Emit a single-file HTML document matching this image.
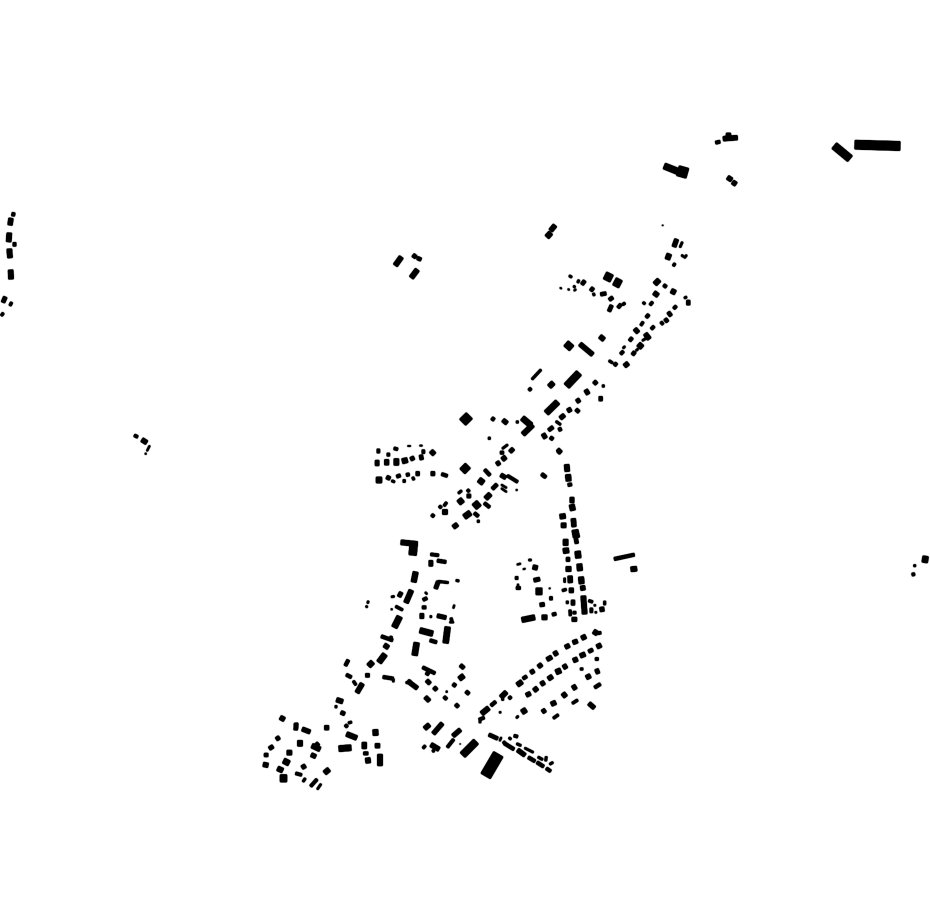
<!DOCTYPE html>
<html><head><meta charset="utf-8"><title>Figure-ground map</title>
<style>html,body{margin:0;padding:0;background:#fff}svg{display:block}path{fill:none;stroke:#000}</style></head>
<body><svg width="930" height="924" viewBox="0 0 930 924" xmlns="http://www.w3.org/2000/svg">
<defs><filter id="f" filterUnits="userSpaceOnUse" x="0" y="0" width="930" height="924"><feGaussianBlur stdDeviation="0.65"/><feComponentTransfer><feFuncA type="linear" slope="5" intercept="0"/></feComponentTransfer></filter></defs>
<g filter="url(#f)">
<g transform="translate(520 120) scale(.3333)">
<path stroke-width="26" d="M1005 74L1140 78"/><path stroke-width="22" d="M943 77L990 116"/><path stroke-width="18" d="M433 138L473 154"/><path stroke-width="30" d="M474 152L502 160"/><path stroke-width="13" d="M610 56L652 53"/><path stroke-width="9" d="M619 44L632 44"/><path stroke-width="9" d="M587 68L600 65"/><path stroke-width="13" d="M623 172L635 180M638 186L648 193M105 316L92 332"/><path stroke-width="17" d="M81 340L92 350"/><path stroke-width="2" d="M426 316L430 316"/>
</g>
<g transform="translate(560 230) scale(.3333)">
<path stroke-width="12" d="M350 28L342 50"/><path stroke-width="5" d="M367 36L360 52M365 75L370 80M373 84L380 75"/><path stroke-width="14" d="M328 72L322 88"/><path stroke-width="7" d="M345 100L340 108"/><path stroke-width="9" d="M33 137L30 142"/><path stroke-width="3" d="M0 173L5 176"/><path stroke-width="4" d="M24 177L28 180M42 182L48 178"/><path stroke-width="6" d="M57 150L53 158M45 168L41 172M100 190L103 197"/><path stroke-width="14" d="M66 155L74 161M175 225L182 231"/><path stroke-width="12" d="M92 175L100 181"/><path stroke-width="10" d="M122 193L138 190M155 226L147 244"/><path stroke-width="13" d="M150 202L156 210"/><path stroke-width="7" d="M188 224L195 219"/><path stroke-width="22" d="M150 131L140 151"/><path stroke-width="20" d="M178 148L167 169"/>
<path stroke-width="18" d="M286 151L296 161"/><path stroke-width="9" d="M311 165L319 171"/><path stroke-width="14" d="M334 182L346 188"/><path stroke-width="8" d="M375 200L378 205M250 222L254 217"/><path stroke-width="14" d="M380 218L390 218"/><path stroke-width="13" d="M282 188L294 197"/><path stroke-width="11" d="M342 229L348 235"/><path stroke-width="12" d="M271 218L277 223M259 255L266 261M315 274L323 268M275 290L281 296M209 325L216 331M217 367L225 373M183 365L189 371"/><path stroke-width="14" d="M325 255L333 249"/><path stroke-width="10" d="M303 282L309 277"/><path stroke-width="13" d="M243 279L249 283M120 319L132 329M60 342L98 374"/><path stroke-width="15" d="M225 306L234 298M236 353L246 342"/><path stroke-width="20" d="M257 323L267 315"/><path stroke-width="5" d="M247 332L258 325M228 362L234 357M189 355L195 349"/><path stroke-width="22" d="M33 340L20 355"/><path stroke-width="6" d="M147 392L158 399"/><path stroke-width="10" d="M163 400L170 406"/><path stroke-width="14" d="M195 399L203 409"/>
</g>
<g transform="translate(360 360) scale(.3333)">
<path stroke-width="6" d="M543 29L516 58"/><path stroke-width="17" d="M569 69L579 79"/><path stroke-width="20" d="M657 39L620 78"/><path stroke-width="9" d="M507 85L513 91M396 181L402 173"/><path stroke-width="11" d="M702 64L710 72"/><path stroke-width="7" d="M727 78L733 78"/><path stroke-width="15" d="M676 99L686 93M548 231L558 225"/><path stroke-width="13" d="M717 116L727 116"/><path stroke-width="12" d="M650 125L659 119M623 153L633 147M601 175L613 165M429 180L441 190"/><path stroke-width="10" d="M648 148L657 156M566 211L579 201M596 210L604 206M571 232L579 238"/><path stroke-width="17" d="M593 126L559 159"/><path stroke-width="6" d="M588 184L602 194"/><path stroke-width="11" d="M593 268L603 278"/><path stroke-width="28" d="M309 168L327 186"/><path stroke-width="7" d="M385 235L391 235M469 186L475 186"/><path stroke-width="16" d="M487 174L513 196"/><path stroke-width="14" d="M518 195L489 223"/>
<path stroke-width="5" d="M443 254L427 266"/><path stroke-width="9" d="M421 278L431 278"/><path stroke-width="14" d="M451 267L459 275"/><path stroke-width="13" d="M427 299L437 291"/><path stroke-width="12" d="M410 313L419 307"/><path stroke-width="23" d="M308 318L323 333"/><path stroke-width="9" d="M374 329L390 346M373 429L389 442M343 459L355 469"/><path stroke-width="16" d="M357 359L370 369M296 429L308 419M313 471L331 458"/><path stroke-width="10" d="M397 387L411 373"/><path stroke-width="17" d="M427 354L433 344"/><path stroke-width="8" d="M442 347L473 366M322 389L328 395"/><path stroke-width="4" d="M424 374L440 384M424 385L440 396M468 390L472 390"/><path stroke-width="6" d="M295 400L305 392"/><path stroke-width="11" d="M321 408L332 408"/><path stroke-width="14" d="M377 416L391 402M248 456L262 456"/><path stroke-width="20" d="M343 441L357 429"/><path stroke-width="7" d="M352 484L358 484M260 427L252 438"/><path stroke-width="13" d="M280 502L292 493"/><path stroke-width="8" d="M238 438L244 444"/><path stroke-width="9" d="M215 464L222 470"/>
<path stroke-width="12" d="M51 273L59 273M168 341L178 341M213 341L224 341"/><path stroke-width="9" d="M81 284L89 284M110 350L121 346M139 345L148 343M157 357L163 354M245 342L262 348"/><path stroke-width="8" d="M102 265L113 268M129 363L136 363"/><path stroke-width="3" d="M143 258L152 258M179 257L187 257"/><path stroke-width="11" d="M186 275L194 275M152 298L162 293M80 351L90 356"/><path stroke-width="13" d="M213 273L223 283"/><path stroke-width="16" d="M46 309L57 309M74 307L86 307"/><path stroke-width="19" d="M102 306L116 306"/><path stroke-width="15" d="M127 304L142 300"/><path stroke-width="14" d="M179 293L189 291"/><path stroke-width="17" d="M49 360L65 360"/><path stroke-width="6" d="M95 362L104 366"/><path stroke-width="9" d="M545 342L558 352"/>
</g>
<g transform="translate(500 450) scale(.3333)">
<path stroke-width="14" d="M200 44L202 64M184 226L198 226M197 268L197 286M198 357L213 357M208 421L220 421M250 438L254 492M393 358L410 356"/><path stroke-width="15" d="M204 74L206 93M215 164L219 181M224 274L234 272M190 303L206 301M238 342L240 362M243 381L245 401M214 458L224 458M66 510L104 502"/><path stroke-width="9" d="M204 105L215 103M343 327L403 314M46 384L54 384M49 414L61 414M157 494L168 491"/><path stroke-width="10" d="M126 73L136 81M149 445L157 445"/><path stroke-width="11" d="M174 2L182 9M311 459L317 459M102 391L119 387M120 465L133 463"/><path stroke-width="16" d="M210 150L222 150M187 192L189 206M233 304L235 324"/><path stroke-width="13" d="M220 206L222 230M210 378L211 398M242 415L255 413M300 479L312 477M99 351L112 354"/><path stroke-width="18" d="M225 240L229 262"/><path stroke-width="8" d="M232 250L235 262M199 457L205 457M219 488L228 488M274 474L274 488"/><path stroke-width="12" d="M199 328L209 328M216 508L230 508"/><path stroke-width="5" d="M194 384L194 397M86 330L94 330M282 466L287 466M285 487L290 487"/><path stroke-width="7" d="M187 422L199 418M210 480L211 497M266 452L278 456"/><path stroke-width="4" d="M51 344L62 341"/><path stroke-width="3" d="M69 358L76 356M147 415L151 415"/><path stroke-width="6" d="M52 405L56 405"/><path stroke-width="20" d="M108 424L126 424"/><path stroke-width="14" d="M126 502L141 502"/>
</g>
<g transform="translate(340 530) scale(.3333)">
<path stroke-width="14" d="M183 37L232 42"/><path stroke-width="22" d="M221 42L218 75"/><path stroke-width="8" d="M272 73L296 76M260 188L257 191"/><path stroke-width="17" d="M267 100L278 100M179 260L163 292"/><path stroke-width="9" d="M292 92L318 96M247 232L258 232M124 319L158 331M19 434L34 442M129 441L160 446M25 390L16 407M248 412L285 430"/><path stroke-width="15" d="M227 126L221 156M240 258L251 258M86 408L98 396"/><path stroke-width="11" d="M287 176L295 154M184 187L177 200M292 257L318 263M77 436L88 436M260 451L270 461M282 472L290 480"/><path stroke-width="6" d="M294 154L325 158M348 151L357 153M270 260L275 260"/><path stroke-width="13" d="M253 203L257 211M133 345L145 353M67 461L51 488"/><path stroke-width="14" d="M214 181L198 218M363 414L370 406M358 447L371 437"/><path stroke-width="5" d="M154 201L163 199M85 213L83 220M78 228L82 232M318 485L322 485M160 446L160 456"/><path stroke-width="7" d="M167 229L188 240M154 319L151 330M333 264L336 275M40 453L48 465"/><path stroke-width="4" d="M153 238L157 238M340 235L343 225M329 277L341 277"/><path stroke-width="16" d="M323 291L317 339M240 301L278 311M230 338L224 376M135 373L117 397"/><path stroke-width="9" d="M270 331L290 337M312 500L320 508"/><path stroke-width="12" d="M203 453L232 475M256 501L268 513"/><path stroke-width="6" d="M198 459L213 453"/><path stroke-width="10" d="M268 421L260 435M339 462L347 468M378 484L387 492M347 523L355 531"/>
</g>
<g transform="translate(400 620) scale(.3333)">
<path stroke-width="14" d="M581 34L592 41M352 195L366 185M245 281L266 264"/><path stroke-width="8" d="M592 40L603 38M237 299L253 293M586 117L595 117"/><path stroke-width="13" d="M545 55L557 49M462 103L472 97M591 81L603 75M541 108L555 102M520 122L532 117M490 143L500 137M445 177L457 169M423 193L433 187M402 212L412 204M303 232L319 216"/><path stroke-width="12" d="M519 68L532 63M496 82L508 76M441 119L455 111M415 141L425 133M392 158L402 152M379 226L391 220"/><path stroke-width="9" d="M369 176L380 169M327 230L333 236M273 257L287 245"/><path stroke-width="6" d="M305 238L311 238"/><path stroke-width="7" d="M237 305L243 305"/><path stroke-width="5" d="M298 277L303 277M349 294L355 288"/><path stroke-width="10" d="M566 95L578 89"/><path stroke-width="15" d="M468 157L482 151M366 277L378 269"/>
<path stroke-width="14" d="M587 156L597 152M518 205L528 199M488 229L498 221"/><path stroke-width="13" d="M559 173L571 167M454 253L467 247"/><path stroke-width="7" d="M541 147L549 147M517 250L533 240M460 295L475 284"/><path stroke-width="9" d="M584 203L601 192"/><path stroke-width="12" d="M567 250L583 264M427 276L436 270"/>
<path stroke-width="13" d="M74 326L88 314M93 374L117 388"/><path stroke-width="12" d="M127 310L100 341M181 329L159 348"/><path stroke-width="8" d="M161 358L142 382"/><path stroke-width="20" d="M228 365L188 405"/><path stroke-width="6" d="M98 390L102 396"/><path stroke-width="7" d="M69 385L76 377"/><path stroke-width="32" d="M295 403L257 468"/><path stroke-width="10" d="M267 344L293 356"/><path stroke-width="8" d="M342 347L353 350M310 365L318 373"/><path stroke-width="6" d="M327 353L333 358M350 371L363 377M414 411L428 419M439 410L437 423M449 433L459 427"/><path stroke-width="4" d="M299 363L304 352"/><path stroke-width="9" d="M313 370L342 388M385 412L405 424M411 427L431 440M439 445L452 454"/><path stroke-width="12" d="M353 390L375 406"/><path stroke-width="5" d="M374 384L400 397"/><path stroke-width="2" d="M179 372L182 372"/>
</g>
<g transform="translate(255 690) scale(.3333)">
<path stroke-width="13" d="M245 29L263 35M76 82L88 89M209 113L221 113M328 157L328 176M361 167L374 167"/><path stroke-width="7" d="M240 50L246 50"/><path stroke-width="11" d="M258 67L269 72M124 100L122 120M64 148L73 142M43 176L54 169"/><path stroke-width="6" d="M280 99L290 96M118 104L128 101M151 265L144 275"/><path stroke-width="9" d="M271 111L277 105M326 190L339 190"/><path stroke-width="14" d="M275 132L305 144M171 167L195 178M96 188L110 188M68 235L83 242M209 249L222 238M338 204L340 219M375 193L375 227"/><path stroke-width="12" d="M142 117L165 126M182 160L190 168M169 194L182 200M141 233L151 227"/><path stroke-width="17" d="M128 160L142 160M252 176L288 173M354 128L369 127"/><path stroke-width="10" d="M28 195L39 195"/><path stroke-width="13" d="M25 223L39 226"/><path stroke-width="16" d="M86 212L102 220"/><path stroke-width="21" d="M76 265L95 265"/><path stroke-width="8" d="M122 250L140 255M186 268L167 289"/><path stroke-width="5" d="M198 282L187 298"/>
</g>
<g transform="translate(0 205) scale(.3333)">
<path stroke-width="9" d="M41 23L39 33"/><path stroke-width="13" d="M33 40L30 60"/><path stroke-width="14" d="M28 84L26 110M28 132L30 158M32 195L33 222"/><path stroke-width="11" d="M39 118L48 118M16 276L9 292"/><path stroke-width="7" d="M35 292L30 302M10 324L4 332"/>
</g>
<g transform="translate(125 425) scale(.3333)">
<path stroke-width="8" d="M28 31L38 36"/><path stroke-width="13" d="M51 44L65 53"/><path stroke-width="4" d="M74 62L66 78M62 84L62 88"/>
</g>
<g transform="translate(900 545) scale(.3333)">
<path stroke-width="16" d="M77 34L74 52"/><path stroke-width="6" d="M41 62L47 62"/><path stroke-width="8" d="M39 84L41 92"/>
</g>
<g transform="translate(385 245) scale(.3333)">
<path stroke-width="14" d="M49 36L31 61"/><path stroke-width="11" d="M84 30L93 37"/><path stroke-width="10" d="M97 39L108 44"/><path stroke-width="14" d="M97 74L79 98"/>
</g>
</g>
</svg></body></html>
